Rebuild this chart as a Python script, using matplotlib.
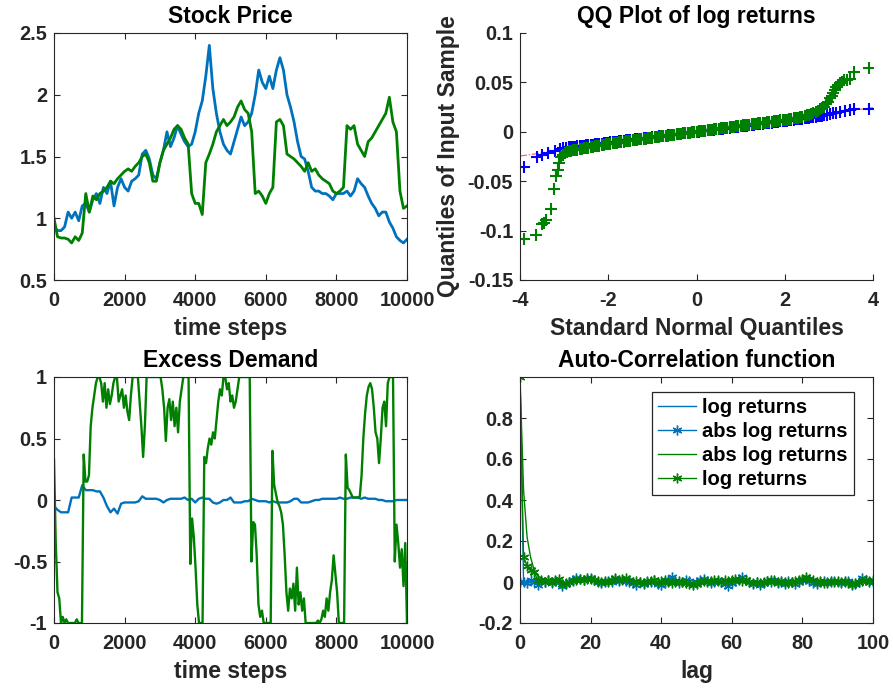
import matplotlib
matplotlib.use("Agg")
import matplotlib.pyplot as plt
import numpy as np
from matplotlib.ticker import FuncFormatter

plt.rcParams['font.family'] = ['Liberation Sans', 'DejaVu Sans']
plt.rcParams['font.weight'] = 'bold'

BLUE = '#0072bd'
GREEN = '#008000'
TXT = '#262626'

# ---- stock price (every 100 time steps) ----
price_blue = [0.93, 0.9, 0.9, 0.93, 1.05, 1.0, 1.05, 0.98, 1.1, 1.12, 1.05, 1.15, 1.2, 1.12, 1.25, 1.2,
              1.3, 1.1, 1.25, 1.32, 1.25, 1.22, 1.3, 1.32, 1.35, 1.52, 1.55, 1.48, 1.35, 1.32, 1.45, 1.55,
              1.7, 1.58, 1.65, 1.75, 1.68, 1.62, 1.58, 1.6, 1.7, 1.85, 1.95, 2.15, 2.4, 2.05, 1.85, 1.7,
              1.6, 1.55, 1.52, 1.62, 1.72, 1.82, 1.75, 1.78, 1.85, 2.0, 2.2, 2.1, 2.05, 2.15, 2.05, 2.2,
              2.3, 2.2, 2.0, 1.9, 1.78, 1.62, 1.5, 1.48, 1.38, 1.25, 1.22, 1.22, 1.2, 1.2, 1.18, 1.15,
              1.2, 1.2, 1.2, 1.22, 1.18, 1.22, 1.32, 1.28, 1.25, 1.18, 1.12, 1.08, 1.02, 1.05, 1.05, 0.97,
              0.92, 0.85, 0.82, 0.8, 0.83]
price_green = [1.0, 0.85, 0.84, 0.84, 0.83, 0.8, 0.85, 0.82, 0.88, 1.2, 1.05, 1.18, 1.15, 1.2, 1.22, 1.25,
               1.3, 1.28, 1.32, 1.35, 1.38, 1.4, 1.38, 1.42, 1.45, 1.5, 1.52, 1.45, 1.3, 1.3, 1.45, 1.55,
               1.6, 1.65, 1.72, 1.75, 1.72, 1.65, 1.6, 1.2, 1.12, 1.12, 1.03, 1.45, 1.52, 1.6, 1.7, 1.75,
               1.8, 1.75, 1.78, 1.82, 1.9, 1.95, 1.88, 1.85, 1.7, 1.2, 1.22, 1.18, 1.12, 1.2, 1.25, 1.78,
               1.8, 1.75, 1.52, 1.5, 1.48, 1.45, 1.42, 1.38, 1.45, 1.38, 1.4, 1.35, 1.32, 1.3, 1.28, 1.22,
               1.2, 1.22, 1.25, 1.75, 1.72, 1.75, 1.6, 1.55, 1.5, 1.62, 1.65, 1.7, 1.75, 1.8, 1.85, 1.98,
               1.78, 1.7, 1.22, 1.08, 1.1]

# ---- excess demand ----
ed_blue = [-0.05, -0.08, -0.1, -0.1, -0.1, 0.02, 0.02, 0.02, 0.12, 0.08, 0.08, 0.08, 0.07, 0.07, 0.02, -0.05,
           -0.1, -0.07, -0.11, -0.03, -0.02, -0.02, -0.02, -0.02, -0.01, 0.03, 0.01, 0.01, 0.01, 0.01, 0.0, -0.02,
           0.0, 0.01, 0.01, 0.01, 0.01, 0.02, 0.0, 0.01, -0.02, 0.01, 0.02, 0.01, 0.01, -0.02, -0.03, -0.02,
           0.0, 0.0, 0.02, -0.02, -0.02, -0.02, -0.01, -0.01, 0.01, 0.0, -0.01, -0.01, -0.01, -0.02, -0.01, -0.02,
           -0.02, -0.02, -0.02, -0.01, 0.01, 0.01, -0.02, -0.02, -0.02, -0.01, 0.0, 0.0, 0.01, 0.01, 0.01, 0.01,
           0.01, 0.02, 0.01, 0.01, 0.02, 0.02, 0.02, 0.01, 0.02, 0.01, 0.01, 0.01, 0.0, 0.0, -0.01, -0.01,
           -0.01, 0.0, 0.0, 0.0, 0.0]
# every 50 time steps
ed_green = [0.33, -0.35, -0.75, -0.8, -1.0, -0.95, -1.0, -0.97, -1.0, -1.0, -1.0, -1.0, -1.0, -0.97, -1.0, -1.0,
            -1.0, 0.37, 0.15, 0.15, 0.2, 0.6, 0.75, 0.85, 0.95, 1.0, 1.0, 0.95, 0.8, 0.95, 0.75, 0.9,
            0.78, 0.85, 0.95, 1.0, 1.0, 0.8, 0.85, 0.9, 0.75, 0.85, 0.72, 0.65, 0.85, 1.0, 1.0, 1.0,
            1.0, 0.8, 0.6, 0.35, 0.6, 1.0, 1.0, 1.0, 1.0, 1.0, 1.0, 1.0, 1.0, 1.0, 0.9, 0.75,
            0.48, 0.75, 0.82, 0.65, 0.8, 0.6, 0.75, 0.55, 0.8, 0.9, 1.0, 1.0, 1.0, 1.0, -0.52, -0.15,
            -0.3, -0.55, -0.85, -1.0, -1.0, -1.0, 0.35, 0.3, 0.42, 0.5, 0.45, 0.55, 0.5, 0.65, 0.8, 0.9,
            0.85, 1.0, 1.0, 0.9, 0.95, 0.8, 0.85, 0.75, 0.8, 0.9, 1.0, 1.0, 1.0, 1.0, 1.0, 1.0,
            1.0, -0.5, -0.18, -0.2, -0.45, -0.85, -0.95, -0.9, -1.0, -1.0, -1.0, -1.0, -1.0, 0.4, 0.12, 0.05,
            -0.02, -0.05, -0.1, -0.2, -0.45, -0.75, -0.9, -0.72, -0.8, -0.68, -0.9, -0.55, -0.85, -0.75, -0.9, -0.8,
            -1.0, -1.0, -1.0, -1.0, -1.0, -1.0, -1.0, -0.98, -1.0, -0.97, -0.9, -0.95, -0.8, -0.9, -0.75, -0.65,
            -0.45, -0.6, -0.75, -1.0, -1.0, -1.0, -1.0, 0.37, 0.1, 0.08, 0.05, 0.02, 0.02, 0.02, 0.02, 0.03,
            0.2, 0.5, 0.7, 0.85, 0.92, 0.95, 0.9, 0.75, 0.55, 0.5, 0.3, 0.5, 0.75, 0.8, 0.6, 0.95,
            1.0, 1.0, 1.0, -0.5, -0.2, -0.35, -0.55, -0.4, -0.7, -0.35, -1.0]

# ---- QQ plot ----
# theoretical quantiles for the dense middle part (shared by both series)
qq_x_mid = [-2.90, -2.85, -2.80, -2.75, -2.70, -2.65, -2.60, -2.55, -2.50, -2.45, -2.40, -2.35, -2.30, -2.25,
            -2.20, -2.15, -2.10, -2.05, -2.00, -1.95, -1.90, -1.85, -1.80, -1.75, -1.70, -1.65, -1.60, -1.55,
            -1.50, -1.45, -1.40, -1.35, -1.30, -1.25, -1.20, -1.15, -1.10, -1.05, -1.00, -0.95, -0.90, -0.85,
            -0.80, -0.75, -0.70, -0.65, -0.60, -0.55, -0.50, -0.45, -0.40, -0.35, -0.30, -0.25, -0.20, -0.15,
            -0.10, -0.05, 0.00, 0.05, 0.10, 0.15, 0.20, 0.25, 0.30, 0.35, 0.40, 0.45, 0.50, 0.55, 0.60, 0.65,
            0.70, 0.75, 0.80, 0.85, 0.90, 0.95, 1.00, 1.05, 1.10, 1.15, 1.20, 1.25, 1.30, 1.35, 1.40, 1.45,
            1.50, 1.55, 1.60, 1.65, 1.70, 1.75, 1.80, 1.85, 1.90, 1.95, 2.00, 2.05, 2.10, 2.15, 2.20, 2.25,
            2.30, 2.35, 2.40, 2.45, 2.50, 2.55, 2.60, 2.65, 2.70, 2.75, 2.80, 2.85, 2.90]
qq_y_blue_mid = [-0.0158, -0.0155, -0.0153, -0.0150, -0.0148, -0.0145, -0.0143, -0.0140, -0.0138, -0.0135,
                 -0.0133, -0.0130, -0.0127, -0.0125, -0.0122, -0.0119, -0.0116, -0.0114, -0.0111, -0.0108,
                 -0.0105, -0.0102, -0.0099, -0.0097, -0.0094, -0.0091, -0.0088, -0.0085, -0.0083, -0.0080,
                 -0.0077, -0.0074, -0.0072, -0.0069, -0.0066, -0.0063, -0.0061, -0.0058, -0.0055, -0.0052,
                 -0.0050, -0.0047, -0.0044, -0.0041, -0.0039, -0.0036, -0.0033, -0.0030, -0.0028, -0.0025,
                 -0.0022, -0.0019, -0.0017, -0.0014, -0.0011, -0.0008, -0.0006, -0.0003, 0.0000, 0.0003,
                 0.0006, 0.0008, 0.0011, 0.0014, 0.0017, 0.0019, 0.0022, 0.0025, 0.0028, 0.0030, 0.0033,
                 0.0036, 0.0039, 0.0041, 0.0044, 0.0047, 0.0050, 0.0052, 0.0055, 0.0058, 0.0061, 0.0063,
                 0.0066, 0.0069, 0.0072, 0.0074, 0.0077, 0.0080, 0.0083, 0.0085, 0.0088, 0.0091, 0.0094,
                 0.0097, 0.0099, 0.0102, 0.0105, 0.0108, 0.0111, 0.0114, 0.0116, 0.0119, 0.0122, 0.0125,
                 0.0127, 0.0130, 0.0133, 0.0136, 0.0139, 0.0142, 0.0145, 0.0148, 0.0152, 0.0156, 0.0160,
                 0.0164, 0.0168]
qq_y_green_mid = [-0.0198, -0.0193, -0.0188, -0.0184, -0.0180, -0.0176, -0.0172, -0.0168, -0.0164, -0.0160,
                  -0.0156, -0.0152, -0.0148, -0.0144, -0.0140, -0.0136, -0.0132, -0.0128, -0.0124, -0.0121,
                  -0.0117, -0.0114, -0.0110, -0.0107, -0.0103, -0.0100, -0.0096, -0.0093, -0.0090, -0.0087,
                  -0.0083, -0.0080, -0.0077, -0.0074, -0.0071, -0.0068, -0.0065, -0.0062, -0.0059, -0.0056,
                  -0.0053, -0.0050, -0.0047, -0.0044, -0.0041, -0.0038, -0.0035, -0.0032, -0.0029, -0.0026,
                  -0.0023, -0.0020, -0.0017, -0.0014, -0.0011, -0.0008, -0.0005, -0.0002, 0.0001, 0.0004,
                  0.0007, 0.0010, 0.0013, 0.0016, 0.0019, 0.0022, 0.0025, 0.0028, 0.0031, 0.0034, 0.0037,
                  0.0040, 0.0043, 0.0046, 0.0049, 0.0052, 0.0055, 0.0058, 0.0061, 0.0064, 0.0067, 0.0070,
                  0.0073, 0.0076, 0.0079, 0.0082, 0.0085, 0.0088, 0.0091, 0.0094, 0.0097, 0.0100, 0.0103,
                  0.0106, 0.0109, 0.0112, 0.0115, 0.0118, 0.0121, 0.0124, 0.0128, 0.0131, 0.0135, 0.0139,
                  0.0143, 0.0147, 0.0152, 0.0158, 0.0165, 0.0172, 0.0180, 0.0190, 0.0200, 0.0212, 0.0226,
                  0.0240, 0.0255]
# sparse tails
qq_x_blue_lo = [-3.92, -3.62, -3.51, -3.36, -3.20, -3.10, -3.02, -2.95]
qq_y_blue_lo = [-0.0358, -0.0252, -0.0238, -0.0215, -0.0190, -0.0175, -0.0166, -0.0160]
qq_x_blue_hi = [2.95, 3.02, 3.09, 3.17, 3.25, 3.36, 3.47, 3.58, 3.92]
qq_y_blue_hi = [0.0172, 0.0178, 0.0186, 0.0195, 0.0205, 0.0215, 0.0222, 0.0228, 0.0233]
qq_x_green_lo = [-3.92, -3.64, -3.51, -3.45, -3.40, -3.30, -3.22, -3.18, -3.15, -3.11, -3.06, -3.02, -2.98, -2.94]
qq_y_green_lo = [-0.1086, -0.1046, -0.0935, -0.0920, -0.0894, -0.0783, -0.0574, -0.0449, -0.0388, -0.0320,
                 -0.0253, -0.0232, -0.0215, -0.0205]
qq_x_green_hi = [2.94, 2.98, 3.02, 3.06, 3.09, 3.13, 3.17, 3.21, 3.25, 3.30, 3.34, 3.40, 3.47, 3.58, 3.92]
qq_y_green_hi = [0.0285, 0.0305, 0.0340, 0.0365, 0.0390, 0.0420, 0.0450, 0.0470, 0.0490, 0.0505, 0.0523,
                 0.0525, 0.0530, 0.0604, 0.0644]
qq_line_x = [-4.0, 4.0]
qq_line_y = [-0.0245, 0.0245]

# ---- auto-correlation ----
acf_lr_blue = [1.0, 0.0, 0.005, -0.005, 0.01, 0.0, -0.01, 0.005, 0.0, 0.01, -0.005, 0.005, -0.015, -0.005, 0.005,
               0.01, 0.015, 0.02, 0.01, 0.015, 0.01, 0.005, 0.0, -0.01, 0.005, 0.0, 0.005, 0.01, 0.005, 0.0,
               0.01, 0.005, -0.005, -0.01, 0.0, -0.005, 0.0, 0.005, 0.005, -0.005, -0.01, 0.0, 0.005, 0.015,
               0.01, 0.0, -0.005, 0.005, 0.0, -0.005, 0.005, 0.01, 0.01, 0.0, 0.0, 0.005, 0.005, -0.005, -0.005,
               -0.015, 0.0, 0.01, 0.01, 0.02, 0.005, -0.005, -0.005, 0.005, -0.01, 0.0, 0.0, 0.005, 0.005, 0.0,
               -0.005, -0.005, 0.0, 0.005, -0.005, 0.005, 0.005, 0.01, 0.0, 0.0, -0.005, 0.005, 0.0, 0.0, 0.005,
               0.0, -0.005, 0.0, 0.005, 0.0, -0.01, -0.005, 0.005, 0.015, 0.005, 0.0, 0.005]
acf_abs_blue = [0.0, 0.0, -0.005, 0.01, 0.0, -0.015, 0.005, 0.0, 0.01, -0.005, 0.005, 0.0, -0.02, -0.01, 0.0,
                0.01, 0.02, 0.015, 0.01, 0.015, 0.02, 0.01, 0.0, -0.005, 0.0, 0.005, 0.0, 0.015, 0.005, 0.01,
                0.005, 0.0, -0.005, -0.015, 0.0, -0.01, 0.005, 0.0, 0.01, -0.01, -0.015, -0.005, 0.01, 0.025,
                0.005, -0.005, 0.0, 0.01, 0.005, -0.01, 0.0, 0.01, 0.015, 0.005, -0.005, 0.0, 0.01, 0.0, -0.01,
                -0.02, -0.005, 0.005, 0.015, 0.025, 0.01, 0.0, -0.01, 0.0, -0.015, -0.005, 0.005, 0.0, 0.01,
                -0.005, 0.0, -0.01, 0.005, 0.0, -0.01, 0.0, 0.01, 0.015, 0.005, -0.005, -0.01, 0.0, 0.005,
                -0.005, 0.0, 0.005, 0.0, -0.005, 0.0, 0.005, -0.015, -0.01, 0.0, 0.02, 0.01, 0.005, 0.0]
acf_abs_green = [1.0, 0.45, 0.22, 0.12, 0.06, 0.03, 0.02, 0.01, 0.005, 0.01, 0.0, 0.005, 0.0, -0.005, 0.0,
                 0.005, 0.01, 0.01, 0.015, 0.01, 0.01, 0.005, 0.005, 0.0, 0.0, 0.005, 0.01, 0.015, 0.01, 0.01,
                 0.015, 0.005, 0.0, 0.0, -0.005, 0.0, 0.005, 0.005, 0.005, 0.0, 0.0, 0.005, 0.005, 0.0, 0.0,
                 0.0, 0.0, -0.005, -0.005, -0.01, -0.005, 0.0, 0.0, 0.005, 0.005, 0.005, 0.005, 0.005, 0.005,
                 0.01, 0.01, 0.01, 0.005, 0.005, 0.005, 0.0, 0.0, -0.005, 0.0, 0.0, 0.005, 0.005, 0.005, 0.0,
                 0.0, 0.0, 0.0, 0.0, 0.005, 0.005, 0.01, 0.015, 0.015, 0.01, 0.005, 0.0, 0.0, 0.0, 0.0, 0.005,
                 0.0, 0.0, 0.0, -0.005, -0.005, -0.005, 0.0, 0.005, 0.005, 0.005, 0.005]
acf_lr_green = [1.0, 0.12, 0.08, 0.06, 0.05, 0.01, 0.01, 0.0, 0.01, 0.0, 0.01, 0.015, -0.01, -0.005, 0.0,
                0.005, 0.01, 0.015, 0.01, 0.02, 0.015, 0.01, 0.005, 0.0, 0.005, 0.0, 0.01, 0.02, 0.01, 0.015,
                0.02, 0.01, 0.0, 0.005, 0.0, -0.005, 0.0, 0.005, 0.01, 0.0, 0.005, 0.01, 0.0, -0.005, 0.0,
                0.005, 0.0, -0.005, -0.01, -0.015, -0.01, 0.0, 0.005, 0.0, 0.005, 0.01, 0.005, 0.0, 0.01, 0.005,
                0.01, 0.015, 0.01, 0.005, 0.01, 0.0, -0.005, 0.0, -0.005, 0.0, 0.005, 0.01, 0.005, 0.0, 0.005,
                0.0, -0.005, 0.0, 0.005, 0.01, 0.015, 0.025, 0.015, 0.01, 0.0, 0.005, -0.005, 0.0, 0.005, 0.0,
                0.005, 0.0, 0.005, -0.005, -0.01, -0.005, 0.0, 0.005, 0.01, 0.0, 0.01]

fig = plt.figure(figsize=(8.93, 6.9), dpi=100)
W, H = 893.0, 690.0

def box(l, t, r, b):
    return [l / W, 1 - b / H, (r - l) / W, (b - t) / H]

ax1 = fig.add_axes(box(54, 33, 407, 280))
ax2 = fig.add_axes(box(520, 33, 873, 280))
ax3 = fig.add_axes(box(54, 377, 407, 623))
ax4 = fig.add_axes(box(520, 377, 873, 623))

fmt = FuncFormatter(lambda v, p: '%g' % round(v, 4))

def style(ax, boxed=True):
    for s in ax.spines.values():
        s.set_color(TXT)
        s.set_linewidth(0.8)
    if not boxed:
        ax.spines['top'].set_visible(False)
        ax.spines['right'].set_visible(False)
    ax.tick_params(direction='in', length=4, width=0.8, colors=TXT, labelsize=14.3,
                   top=boxed, right=boxed)
    ax.tick_params(axis='x', pad=8)
    ax.tick_params(axis='y', pad=5)
    ax.xaxis.set_major_formatter(fmt)
    ax.yaxis.set_major_formatter(fmt)
    for lab in ax.get_xticklabels() + ax.get_yticklabels():
        lab.set_fontweight('bold')

TF = dict(fontsize=16.5, fontweight='bold', color='black', pad=7)
LF = dict(fontsize=16.5, fontweight='bold', color=TXT)

# Stock price
ax1.plot(np.linspace(0, 10000, len(price_blue)), price_blue, color=BLUE, lw=2.0)
ax1.plot(np.linspace(0, 10000, len(price_green)), price_green, color=GREEN, lw=2.0)
ax1.set_xlim(0, 10000)
ax1.set_ylim(0.5, 2.5)
ax1.set_xticks(range(0, 10001, 2000))
ax1.set_yticks([0.5, 1, 1.5, 2, 2.5])
style(ax1)
ax1.set_title('Stock Price', **TF)
ax1.set_xlabel('time steps', labelpad=5, **LF)

# QQ plot
qx_b = qq_x_blue_lo + qq_x_mid + qq_x_blue_hi
qy_b = qq_y_blue_lo + qq_y_blue_mid + qq_y_blue_hi
qx_g = qq_x_green_lo + qq_x_mid + qq_x_green_hi
qy_g = qq_y_green_lo + qq_y_green_mid + qq_y_green_hi
ax2.plot(qq_line_x, qq_line_y, color='#ff3030', lw=0.8, ls='-.', alpha=0.8)
ax2.plot(qx_b, qy_b, ls='none', marker='+', ms=9, mew=1.5, color='#0000ff')
ax2.plot(qx_g, qy_g, ls='none', marker='+', ms=9, mew=1.5, color=GREEN)
ax2.set_xlim(-4, 4)
ax2.set_ylim(-0.15, 0.1)
ax2.set_xticks([-4, -2, 0, 2, 4])
ax2.set_yticks([-0.15, -0.1, -0.05, 0, 0.05, 0.1])
style(ax2, boxed=False)
ax2.set_title('QQ Plot of log returns', **TF)
ax2.set_xlabel('Standard Normal Quantiles', labelpad=5, **LF)
ax2.set_ylabel('Quantiles of Input Sample', **LF)
ax2.yaxis.set_label_coords(-0.17, 0.5)

# Excess demand
ax3.plot(np.linspace(0, 10000, len(ed_blue)), ed_blue, color=BLUE, lw=1.7)
ax3.plot(np.linspace(0, 10000, len(ed_green)), ed_green, color=GREEN, lw=1.7)
ax3.set_xlim(0, 10000)
ax3.set_ylim(-1, 1)
ax3.set_xticks(range(0, 10001, 2000))
ax3.set_yticks([-1, -0.5, 0, 0.5, 1])
style(ax3)
ax3.set_title('Excess Demand', **TF)
ax3.set_xlabel('time steps', labelpad=5, **LF)

# Auto-correlation
star = (6, 2, 0)
ax4.plot(np.arange(len(acf_lr_blue)), acf_lr_blue, color=BLUE, lw=1.0, label='log returns')
ax4.plot(np.arange(len(acf_abs_blue)), acf_abs_blue, color=BLUE, lw=1.0, marker=star, ms=7,
         mew=1.0, label='abs log returns')
ax4.plot(np.arange(len(acf_abs_green)), acf_abs_green, color=GREEN, lw=1.0, label='abs log returns')
ax4.plot(np.arange(len(acf_lr_green)), acf_lr_green, color=GREEN, lw=1.0, marker=star, ms=7,
         mew=1.0, label='log returns')
ax4.set_xlim(0, 100)
ax4.set_ylim(-0.2, 1.0)
ax4.set_xticks(range(0, 101, 20))
ax4.set_yticks([-0.2, 0, 0.2, 0.4, 0.6, 0.8])
style(ax4)
ax4.set_title('Auto-Correlation function', **TF)
ax4.set_xlabel('lag', labelpad=5, **LF)
leg = ax4.legend(loc='upper right', bbox_to_anchor=(854 / W, 1 - 392 / H), bbox_transform=fig.transFigure,
                 borderaxespad=0, fancybox=False, framealpha=1, edgecolor=TXT, handlelength=1.9,
                 handletextpad=0.3, labelspacing=0.25, borderpad=0.3,
                 prop={'size': 14.5, 'weight': 'bold'})
leg.get_frame().set_linewidth(0.9)
for txt in leg.get_texts():
    txt.set_color('black')

fig.savefig('out.png', dpi=100)
